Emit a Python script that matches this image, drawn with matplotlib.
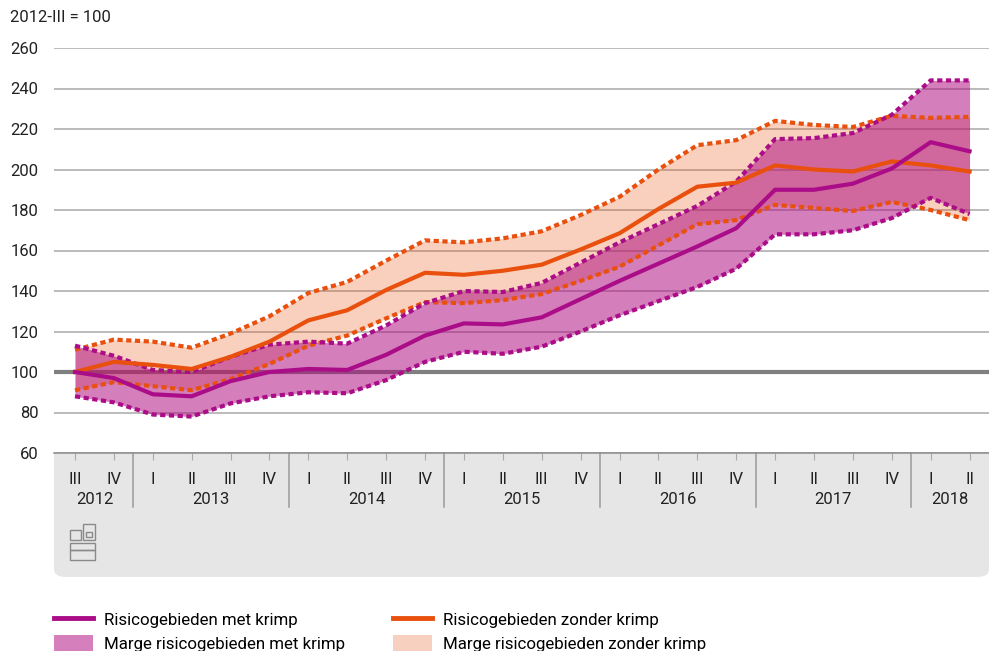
import numpy as np
import matplotlib.pyplot as plt
from matplotlib.patches import FancyBboxPatch, Rectangle
from matplotlib.lines import Line2D
import matplotlib.transforms as mtransforms

plt.rcParams['font.family'] = ['Roboto', 'DejaVu Sans']

# Kwartalen 2012-III t/m 2018-II
quarters = ['III', 'IV'] + ['I', 'II', 'III', 'IV'] * 5 + ['I', 'II']
years = ['2012', '2013', '2014', '2015', '2016', '2017', '2018']
year_counts = [2, 4, 4, 4, 4, 4, 2]

# Risicogebieden met krimp (index, 2012-III = 100)
met_krimp = [100, 97, 89, 88, 95.5, 100, 101.5, 101, 108.5, 118, 124, 123.5,
             127, 136, 145, 153.5, 162, 171, 190, 190, 193, 200.5, 213.5, 209]
met_krimp_hoog = [113, 108, 101, 100, 107.5, 113.5, 115, 114, 123, 134, 140, 139.5,
                  144, 154, 164, 173, 182, 194, 215, 215.5, 218, 227, 244, 244]
met_krimp_laag = [88, 85, 79, 78, 84.5, 88, 90, 89.5, 96, 105, 110, 109,
                  112.5, 120, 128, 135, 142, 151, 168, 168, 170, 176, 186, 178]

# Risicogebieden zonder krimp
zonder_krimp = [100, 105, 103.5, 101.5, 107.5, 115, 125.5, 130.5, 140.5, 149, 148, 150,
                153, 160.5, 168.5, 180.5, 191.5, 193.5, 202, 200, 199, 204, 202, 199]
zonder_krimp_hoog = [111, 116, 115, 112, 119, 127.5, 139, 144.5, 155, 165, 164, 166,
                     169.5, 177.5, 186.5, 200, 212, 214.5, 224, 222, 221, 226.5, 225.5, 226]
zonder_krimp_laag = [91, 95, 93, 91, 96.5, 104, 113, 118, 126.5, 134.5, 134, 135.5,
                     138.5, 145, 152, 162.5, 173, 175, 182.5, 181, 179.5, 184, 180, 175]

magenta = '#ab0d88'
magenta_fill = '#ae0b80'
oranje = '#e9500e'
W, H = 989, 651

fig = plt.figure(figsize=(W / 100, H / 100), dpi=100)
ax = fig.add_axes([54 / W, 1 - 453 / H, 935 / W, 405 / H])
x = np.arange(len(quarters))

# grijs paneel onder de grafiek
panel = FancyBboxPatch((54 / W, 1 - 577 / H), 935 / W, 140 / H,
                       boxstyle='round,pad=0,rounding_size=0.012',
                       transform=fig.transFigure, facecolor='#e6e6e6',
                       edgecolor='none', zorder=-1)
fig.patches.append(panel)

ax.fill_between(x, zonder_krimp_laag, zonder_krimp_hoog, color=oranje, alpha=0.27,
                linewidth=0, zorder=2)
ax.fill_between(x, met_krimp_laag, met_krimp_hoog, color=magenta_fill, alpha=0.52,
                linewidth=0, zorder=3)

stip = (0, (1.25, 0.85))
ax.plot(x, zonder_krimp_hoog, color=oranje, lw=3, linestyle=stip, dash_capstyle='butt', zorder=4)
ax.plot(x, zonder_krimp_laag, color=oranje, lw=3, linestyle=stip, dash_capstyle='butt', zorder=4)
ax.plot(x, met_krimp_hoog, color=magenta, lw=3, linestyle=stip, dash_capstyle='butt', zorder=5)
ax.plot(x, met_krimp_laag, color=magenta, lw=3, linestyle=stip, dash_capstyle='butt', zorder=5)
ax.plot(x, zonder_krimp, color=oranje, lw=3, zorder=6, solid_joinstyle='round')
ax.plot(x, met_krimp, color=magenta, lw=3, zorder=7, solid_joinstyle='round')

ax.axhline(100, color='#808080', lw=3, zorder=1.5)

ax.set_xlim(-0.54, 23.5)
ax.set_ylim(60, 260)
ax.set_yticks(range(60, 261, 20))
ax.grid(axis='y', color='#a8a8a8', lw=1.1, zorder=1)
ax.set_axisbelow(True)
for s in ['top', 'right', 'left']:
    ax.spines[s].set_visible(False)
ax.spines['bottom'].set_color('#8c8c8c')
ax.spines['bottom'].set_linewidth(1.1)
ax.tick_params(axis='y', length=0, pad=11, labelsize=12, labelcolor='#222222')
ax.set_xticks(x)
ax.set_xticklabels([])
ax.tick_params(axis='x', length=5, color='#aaaaaa', width=0.8)

trans = mtransforms.blended_transform_factory(ax.transData, fig.transFigure)
for xi, q in zip(x, quarters):
    ax.text(xi, 1 - 480 / H, q, transform=trans, ha='center', va='center',
            fontsize=12, color='#222222')
start = 0
for yr, n in zip(years, year_counts):
    mid = start + (n - 1) / 2
    ax.text(mid, 1 - 500 / H, yr, transform=trans, ha='center', va='center',
            fontsize=12, color='#222222')
    if start > 0:
        ax.add_line(Line2D([start - 0.5, start - 0.5], [1 - 453 / H, 1 - 507 / H],
                           transform=trans, color='#9a9a9a', lw=1.1, clip_on=False))
    start += n

# cbs-logo (vereenvoudigd)
lc = '#8a8a8a'
for (lx, ly, lw_, lh) in [(70, 530, 11, 10), (83, 524, 12, 16), (86, 532, 6, 5),
                          (70, 543, 25, 7), (70, 550, 25, 10)]:
    fig.patches.append(Rectangle((lx / W, 1 - (ly + lh) / H), lw_ / W, lh / H,
                                 transform=fig.transFigure, fill=False,
                                 edgecolor=lc, lw=1.0))

fig.text(10 / W, 1 - 18 / H, '2012-III = 100', ha='left', va='center',
         fontsize=12, color='#222222')

handles = [Line2D([], [], color=magenta, lw=3.5),
           Rectangle((0, 0), 1, 1, facecolor='#d580bd', edgecolor='none'),
           Line2D([], [], color=oranje, lw=3.5),
           Rectangle((0, 0), 1, 1, facecolor='#f8d0c0', edgecolor='none')]
labels = ['Risicogebieden met krimp', 'Marge risicogebieden met krimp',
          'Risicogebieden zonder krimp', 'Marge risicogebieden zonder krimp']
fig.legend(handles, labels, loc='upper left', bbox_to_anchor=(46 / W, 1 - 602 / H),
           ncol=2, frameon=False, fontsize=12.2, handlelength=2.3, handleheight=1.2,
           handletextpad=0.65, columnspacing=2.8, labelspacing=0.4, borderpad=0)

fig.savefig('out.png', dpi=100)
